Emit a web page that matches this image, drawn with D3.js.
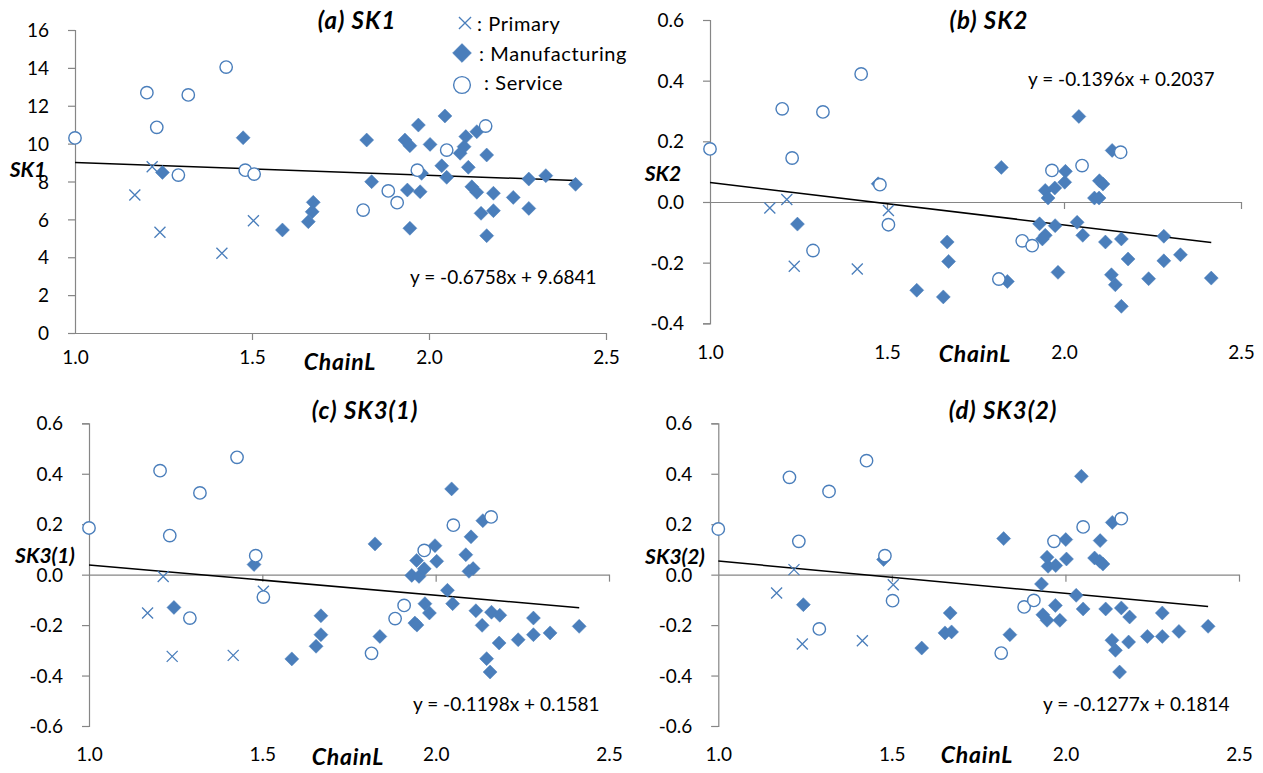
<!doctype html>
<html>
<head>
<meta charset="utf-8">
<style type="text/css">
body { margin: 0; background: #fff; }
text { font-family: Lato, "Open Sans", sans-serif; fill: #000; }
.tick text { font-size: 19px; }
.axis path, .axis line { stroke: #868686; stroke-width: 1.2; }
.title { font-size: 24px; font-weight: bold; font-style: italic; text-anchor: middle; letter-spacing: 1px; }
.ytitle { font-size: 21px; font-weight: bold; font-style: italic; text-anchor: middle; }
.xtitle { font-size: 23px; font-weight: bold; font-style: italic; text-anchor: middle; letter-spacing: 0.8px; }
.eq { font-size: 19px; }
.legend text { font-size: 20px; letter-spacing: 0.6px; }
</style>
</head>
<body>
<svg width="1263" height="773"></svg>
<script src="https://d3js.org/d3.v7.min.js"></script>
<script>
// categories and labels
var categories = ["Primary", "Manufacturing", "Service"];
var legendLabels = [": Primary", ": Manufacturing", ": Service"];
var panelTitles = ["(a) SK1", "(b) SK2", "(c) SK3(1)", "(d) SK3(2)"];
var yTitles = ["SK1", "SK2", "SK3(1)", "SK3(2)"];
var xTitle = "ChainL";

// tick values
var xTicks = [1.0, 1.5, 2.0, 2.5];
var sk1Ticks = [0, 2, 4, 6, 8, 10, 12, 14, 16];
var sk2Ticks = [-0.4, -0.2, 0, 0.2, 0.4, 0.6];
var sk3Ticks = [-0.6, -0.4, -0.2, 0, 0.2, 0.4, 0.6];

// trend lines (slope, intercept)
var trendSlopes = [-0.6758, -0.1396, -0.1198, -0.1277];
var trendIntercepts = [9.6841, 0.2037, 0.1581, 0.1814];

// (a) SK1
var sk1Primary = [[1.169,7.29],[1.218,8.78],[1.240,5.32],[1.415,4.21],[1.504,5.93]];
var sk1Manufacturing = [[1.475,10.31],[1.247,8.48],[1.586,5.44],[1.659,5.88],[1.670,6.40],[1.673,6.90],
  [1.824,10.19],[1.838,7.99],[1.932,10.19],[1.946,9.89],[1.970,10.98],[2.003,9.96],[2.045,11.46],
  [1.939,7.55],[1.975,7.46],[1.946,5.53],[1.979,8.43],[2.036,8.83],[2.050,8.22],[2.088,9.49],
  [2.099,9.84],[2.104,10.37],[2.135,10.63],[2.111,8.75],[2.121,7.72],[2.135,7.43],[2.163,9.40],
  [2.147,6.32],[2.182,7.38],[2.182,6.46],[2.163,5.14],[2.238,7.16],[2.282,8.13],[2.282,6.58],
  [2.330,8.31],[2.414,7.85]];
var sk1Service = [[1.000,10.30],[1.203,12.69],[1.320,12.57],[1.427,14.04],[1.231,10.86],[1.292,8.34],
  [1.481,8.60],[1.506,8.39],[2.160,10.93],[2.050,9.66],[1.967,8.60],[1.885,7.50],[1.910,6.88],[1.814,6.49]];

// (b) SK2
var sk2Primary = [[1.169,-0.020],[1.217,0.008],[1.238,-0.212],[1.416,-0.221],[1.504,-0.028]];
var sk2Manufacturing = [[1.247,-0.073],[1.475,0.060],[1.670,-0.132],[1.674,-0.196],[1.584,-0.291],[1.659,-0.313],
  [1.823,0.114],[1.840,-0.262],[1.947,0.038],[1.974,0.046],[1.955,0.013],[2.004,0.101],[2.002,0.065],
  [1.931,-0.072],[1.975,-0.078],[1.947,-0.110],[1.939,-0.122],[1.983,-0.232],[2.042,0.282],[2.037,-0.067],
  [2.053,-0.110],[2.100,0.070],[2.110,0.059],[2.086,0.013],[2.099,0.013],[2.136,0.170],[2.117,-0.132],
  [2.162,-0.122],[2.181,-0.188],[2.134,-0.240],[2.145,-0.273],[2.162,-0.344],[2.239,-0.253],[2.282,-0.113],
  [2.282,-0.194],[2.329,-0.174],[2.416,-0.251]];
var sk2Service = [[1.000,0.175],[1.204,0.307],[1.232,0.145],[1.319,0.297],[1.427,0.422],[1.291,-0.160],
  [1.480,0.057],[1.504,-0.075],[1.816,-0.254],[1.882,-0.128],[1.910,-0.144],[1.966,0.104],[2.051,0.120],[2.160,0.164]];

// (c) SK3(1)
var sk31Primary = [[1.169,-0.152],[1.214,-0.007],[1.240,-0.324],[1.416,-0.320],[1.503,-0.066]];
var sk31Manufacturing = [[1.245,-0.130],[1.476,0.040],[1.585,-0.334],[1.655,-0.284],[1.669,-0.238],[1.669,-0.163],
  [1.825,0.122],[1.839,-0.245],[1.931,-0.003],[1.945,0.056],[1.952,-0.007],[1.967,0.023],[1.998,0.115],
  [2.003,0.053],[1.940,-0.192],[1.946,-0.200],[1.969,-0.115],[1.982,-0.152],[2.046,0.340],[2.034,-0.062],
  [2.049,-0.115],[2.102,0.150],[2.087,0.079],[2.096,0.013],[2.108,0.024],[2.136,0.214],[2.116,-0.143],
  [2.134,-0.201],[2.161,-0.149],[2.185,-0.161],[2.183,-0.271],[2.147,-0.333],[2.157,-0.386],[2.238,-0.258],
  [2.282,-0.172],[2.282,-0.238],[2.330,-0.231],[2.414,-0.205]];
var sk31Service = [[1.000,0.185],[1.205,0.412],[1.233,0.155],[1.320,0.324],[1.427,0.465],[1.291,-0.172],
  [1.481,0.075],[1.503,-0.089],[1.815,-0.312],[1.883,-0.174],[1.909,-0.122],[1.967,0.096],[2.051,0.196],[2.160,0.229]];

// (d) SK3(2)
var sk32Primary = [[1.168,-0.073],[1.218,0.020],[1.242,-0.275],[1.415,-0.262],[1.504,-0.040]];
var sk32Manufacturing = [[1.245,-0.119],[1.476,0.060],[1.586,-0.291],[1.653,-0.231],[1.672,-0.227],[1.668,-0.152],
  [1.822,0.143],[1.840,-0.238],[1.931,-0.037],[1.947,0.069],[1.950,0.033],[1.972,0.036],[2.001,0.139],
  [2.003,0.062],[1.935,-0.159],[1.947,-0.181],[1.971,-0.122],[1.984,-0.181],[2.046,0.390],[2.031,-0.082],
  [2.051,-0.136],[2.100,0.135],[2.084,0.066],[2.099,0.053],[2.108,0.042],[2.135,0.207],[2.116,-0.136],
  [2.161,-0.132],[2.185,-0.168],[2.134,-0.260],[2.144,-0.300],[2.182,-0.267],[2.156,-0.386],[2.236,-0.245],
  [2.279,-0.152],[2.279,-0.245],[2.327,-0.225],[2.411,-0.205]];
var sk32Service = [[1.000,0.181],[1.205,0.386],[1.232,0.132],[1.319,0.330],[1.427,0.452],[1.291,-0.215],
  [1.480,0.075],[1.502,-0.103],[1.815,-0.311],[1.881,-0.128],[1.909,-0.102],[1.967,0.132],[2.051,0.189],[2.161,0.222]];

window.onload = function() {
  var svg = d3.select("svg");
  var blue = "#4A7EBB";

  // layout of each panel (pixels)
  var layout = [
    {left: 75, right: 606, top: 30, bottom: 333, ticks: sk1Ticks, fmt: d3.format("d"),
     title: [357, 21], ytitle: [28, 170], xtitle: [340, 362], tickLabelY: 357, eq: [410, 284],
     data: [sk1Primary, sk1Manufacturing, sk1Service]},
    {left: 710, right: 1241, top: 20, bottom: 323.3, ticks: sk2Ticks, fmt: function(d) { return d.toFixed(1); },
     title: [989, 21], ytitle: [663, 174], xtitle: [975, 354], tickLabelY: 352, eq: [1028, 86],
     data: [sk2Primary, sk2Manufacturing, sk2Service]},
    {left: 89, right: 609, top: 423.3, bottom: 726, ticks: sk3Ticks, fmt: function(d) { return d.toFixed(1); },
     title: [365, 411], ytitle: [45, 556], xtitle: [348, 757], tickLabelY: 754, eq: [413, 711],
     data: [sk31Primary, sk31Manufacturing, sk31Service]},
    {left: 718.3, right: 1239, top: 423.3, bottom: 726, ticks: sk3Ticks, fmt: function(d) { return d.toFixed(1); },
     title: [1003, 411], ytitle: [675, 557], xtitle: [977, 755], tickLabelY: 754, eq: [1043, 711],
     data: [sk32Primary, sk32Manufacturing, sk32Service]}
  ];

  function diamond(s) { return "M0," + (-s) + "L" + s + ",0L0," + s + "L" + (-s) + ",0Z"; }
  function cross(s) { return "M" + (-s) + "," + (-s) + "L" + s + "," + s + "M" + (-s) + "," + s + "L" + s + "," + (-s); }

  // size scale k: 1 in plots, bigger in legend
  function drawMarker(g, cat, k) {
    if (cat == 0) {
      g.append("path").attr("d", cross(5.5 * k)).attr("fill", "none").attr("stroke", blue).attr("stroke-width", 1.3);
    } else if (cat == 1) {
      g.append("path").attr("d", diamond(7 * k)).attr("fill", blue).attr("stroke", blue).attr("stroke-width", 0.5);
    } else {
      g.append("circle").attr("r", 6.2 * k).attr("fill", "#fff").attr("stroke", blue).attr("stroke-width", 1.4);
    }
  }

  layout.forEach(function(p, i) {
    var ticks = p.ticks;
    var x = d3.scaleLinear().domain([1.0, 2.5]).range([p.left, p.right]);
    var y = d3.scaleLinear().domain([ticks[0], ticks[ticks.length - 1]]).range([p.bottom, p.top]);
    var g = svg.append("g");

    // y axis
    g.append("g").attr("class", "axis")
      .attr("transform", "translate(" + p.left + ",0)")
      .call(d3.axisLeft(y).tickValues(ticks).tickFormat(p.fmt).tickSize(7).tickSizeOuter(7).tickPadding(19))
      .selectAll("text").attr("dy", "0.35em");

    // x axis crossing at 0, labels low
    var xa = g.append("g").attr("class", "axis")
      .attr("transform", "translate(0," + y(0) + ")")
      .call(d3.axisBottom(x).tickValues(xTicks).tickFormat(d3.format(".1f")).tickSize(7).tickSizeOuter(0));
    xa.selectAll(".tick text").attr("y", p.tickLabelY - y(0)).attr("dy", "0.35em");
    xa.selectAll(".tick").filter(function(d) { return d == 1.0; }).select("line").remove();

    // trend line across data range
    var all = p.data[0].concat(p.data[1], p.data[2]);
    var xr = d3.extent(all, function(d) { return d[0]; });
    g.append("line")
      .attr("x1", x(xr[0])).attr("y1", y(trendSlopes[i] * xr[0] + trendIntercepts[i]))
      .attr("x2", x(xr[1])).attr("y2", y(trendSlopes[i] * xr[1] + trendIntercepts[i]))
      .attr("stroke", "#000").attr("stroke-width", 1.5);

    // points: primary, manufacturing, then service on top
    p.data.forEach(function(series, c) {
      g.selectAll(".s" + c).data(series).enter().append("g")
        .attr("class", "s" + c)
        .attr("transform", function(d) { return "translate(" + x(d[0]) + "," + y(d[1]) + ")"; })
        .each(function() { drawMarker(d3.select(this), c, 1); });
    });

    // texts
    g.append("text").attr("class", "title").attr("x", p.title[0]).attr("y", p.title[1]).attr("dy", "0.35em").text(panelTitles[i]);
    g.append("text").attr("class", "ytitle").attr("x", p.ytitle[0]).attr("y", p.ytitle[1]).attr("dy", "0.35em").text(yTitles[i]);
    g.append("text").attr("class", "xtitle").attr("x", p.xtitle[0]).attr("y", p.xtitle[1]).attr("dy", "0.35em").text(xTitle);

    var sign = trendIntercepts[i] < 0 ? " - " : " + ";
    g.append("text").attr("class", "eq").attr("x", p.eq[0]).attr("y", p.eq[1])
      .text("y = " + trendSlopes[i].toFixed(4) + "x" + sign + Math.abs(trendIntercepts[i]).toFixed(4));
  });

  // legend in panel (a)
  var legend = svg.append("g").attr("class", "legend");
  var legendMarkerX = [465, 462, 462];
  var legendMarkerY = [23, 53, 85];
  var legendTextX = [477, 479, 484];
  var legendBaseline = [31, 61, 90];
  categories.forEach(function(c, k) {
    var item = legend.append("g").attr("transform", "translate(" + legendMarkerX[k] + "," + legendMarkerY[k] + ")");
    drawMarker(item, k, k == 0 ? 1.1 : 1.35);
    legend.append("text").attr("x", legendTextX[k]).attr("y", legendBaseline[k]).text(legendLabels[k]);
  });
};
</script>
</body>
</html>
